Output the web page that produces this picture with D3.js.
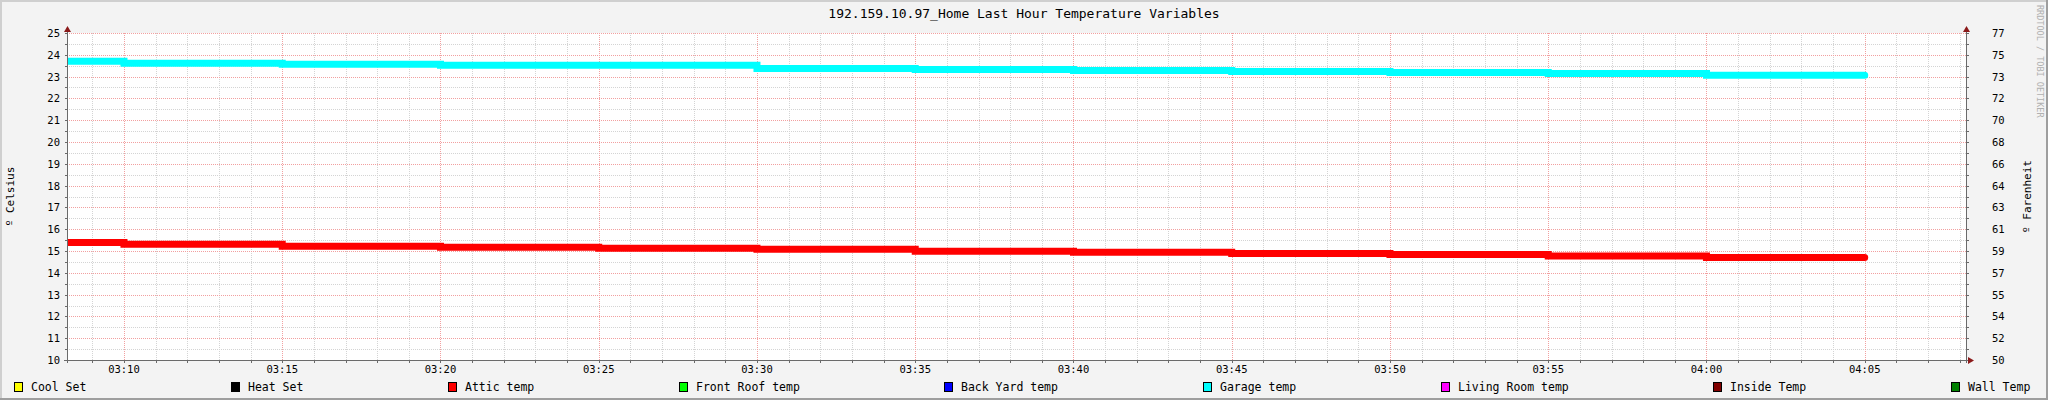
<!DOCTYPE html>
<html>
<head>
<meta charset="utf-8">
<script src="https://cdn.jsdelivr.net/npm/d3@7"></script>
<style>
  body { margin: 0; background: #f3f3f3; }
  svg { display: block; font-family: "DejaVu Sans Mono", monospace; }
</style>
</head>
<body>
<svg id="chart"></svg>
<script>
// 5 minute samples, value holds from the time until the next one
var times = ['03:05', '03:10', '03:15', '03:20', '03:25', '03:30', '03:35', '03:40', '03:45', '03:50', '03:55', '04:00'];
var endTime = '04:05';
var garageTemp = [23.70, 23.61, 23.57, 23.52, 23.52, 23.37, 23.33, 23.28, 23.23, 23.19, 23.14, 23.06];
var atticTemp = [15.39, 15.31, 15.22, 15.17, 15.13, 15.08, 14.99, 14.94, 14.89, 14.84, 14.77, 14.70];

var celsiusTicks = [10, 11, 12, 13, 14, 15, 16, 17, 18, 19, 20, 21, 22, 23, 24, 25];
var farenheitLabels = ['50', '52', '54', '55', '57', '59', '61', '63', '64', '66', '68', '70', '72', '73', '75', '77'];
var timeLabels = ['03:10', '03:15', '03:20', '03:25', '03:30', '03:35', '03:40', '03:45', '03:50', '03:55', '04:00', '04:05'];

var legendNames = ['Cool Set', 'Heat Set', 'Attic temp', 'Front Roof temp', 'Back Yard temp', 'Garage temp', 'Living Room temp', 'Inside Temp', 'Wall Temp'];
var legendColors = ['#ffff00', '#000000', '#ff0000', '#00ff00', '#0000ff', '#00ffff', '#ff00ff', '#800000', '#008000'];

var width = 2048;
var height = 400;
var plotLeft = 67, plotRight = 1966, plotTop = 33, plotBottom = 360;

var parseMin = d3.timeParse('%H:%M');
var parseSec = d3.timeParse('%H:%M:%S');

var x = d3.scaleTime()
  .domain([parseSec('03:08:12'), parseSec('04:08:12')])
  .range([plotLeft, plotRight]);

var y = d3.scaleLinear()
  .domain([10, 25])
  .range([plotBottom, plotTop]);

var yF = d3.scaleLinear()
  .domain([50, 77])
  .range([plotBottom, plotTop]);

var svg = d3.select('#chart')
  .attr('width', width)
  .attr('height', height);

// background + 3d-ish border
svg.append('rect').attr('width', width).attr('height', height).attr('fill', '#f3f3f3');
svg.append('rect').attr('x', 0).attr('y', 0).attr('width', width).attr('height', 2).attr('fill', '#cfcfcf');
svg.append('rect').attr('x', 0).attr('y', 0).attr('width', 2).attr('height', height).attr('fill', '#cfcfcf');
svg.append('rect').attr('x', 0).attr('y', height - 2).attr('width', width).attr('height', 2).attr('fill', '#9e9e9e');
svg.append('rect').attr('x', width - 2).attr('y', 0).attr('width', 2).attr('height', height).attr('fill', '#9e9e9e');

svg.append('rect')
  .attr('x', plotLeft).attr('y', plotTop)
  .attr('width', plotRight - plotLeft).attr('height', plotBottom - plotTop)
  .attr('fill', '#ffffff');

// grid
var minorX = x.ticks(d3.timeMinute.every(1));
var majorX = timeLabels.map(parseMin);
var minorY = d3.range(10, 25.01, 0.5);

var grid = svg.append('g').attr('shape-rendering', 'crispEdges');

grid.selectAll('.vminor')
  .data(minorX)
  .enter()
  .append('line')
  .attr('x1', d => Math.round(x(d)) + 0.5).attr('x2', d => Math.round(x(d)) + 0.5)
  .attr('y1', plotTop).attr('y2', plotBottom)
  .attr('stroke', '#d4d4d4')
  .attr('stroke-dasharray', '1,1');

grid.selectAll('.hminor')
  .data(minorY)
  .enter()
  .append('line')
  .attr('y1', d => Math.round(y(d)) + 0.5).attr('y2', d => Math.round(y(d)) + 0.5)
  .attr('x1', plotLeft).attr('x2', plotRight)
  .attr('stroke', '#d4d4d4')
  .attr('stroke-dasharray', '1,1');

grid.selectAll('.vmajor')
  .data(majorX)
  .enter()
  .append('line')
  .attr('x1', d => Math.round(x(d)) + 0.5).attr('x2', d => Math.round(x(d)) + 0.5)
  .attr('y1', plotTop).attr('y2', plotBottom)
  .attr('stroke', '#f2a0a0')
  .attr('stroke-dasharray', '1,1');

grid.selectAll('.hmajor')
  .data(celsiusTicks)
  .enter()
  .append('line')
  .attr('y1', d => Math.round(y(d)) + 0.5).attr('y2', d => Math.round(y(d)) + 0.5)
  .attr('x1', plotLeft).attr('x2', plotRight)
  .attr('stroke', '#f2a0a0')
  .attr('stroke-dasharray', '1,1');

// data lines
svg.append('clipPath').attr('id', 'plotclip')
  .append('rect')
  .attr('x', plotLeft).attr('y', plotTop)
  .attr('width', plotRight - plotLeft).attr('height', plotBottom - plotTop);

function series(values) {
  var pts = times.map((t, i) => ({ t: parseMin(t), v: values[i] }));
  pts.push({ t: parseMin(endTime), v: values[values.length - 1] });
  return pts;
}

var line = d3.line()
  .x(d => x(d.t))
  .y(d => y(d.v))
  .curve(d3.curveStepAfter);

var lines = svg.append('g').attr('clip-path', 'url(#plotclip)');

[[garageTemp, '#00ffff'], [atticTemp, '#ff0000']].forEach(function(s) {
  lines.append('path')
    .datum(series(s[0]))
    .attr('d', line)
    .attr('fill', 'none')
    .attr('stroke', s[1])
    .attr('stroke-width', 7)
    .attr('stroke-linecap', 'round');
});

// axes
var axisColor = '#6a6a6a';
var axes = svg.append('g').attr('shape-rendering', 'crispEdges');

axes.append('line').attr('x1', plotLeft + 0.5).attr('x2', plotLeft + 0.5)
  .attr('y1', plotTop - 2).attr('y2', plotBottom + 3).attr('stroke', axisColor);
axes.append('line').attr('x1', plotRight + 0.5).attr('x2', plotRight + 0.5)
  .attr('y1', plotTop - 2).attr('y2', plotBottom + 3).attr('stroke', axisColor);
axes.append('line').attr('x1', plotLeft - 3).attr('x2', plotRight + 4)
  .attr('y1', plotBottom + 0.5).attr('y2', plotBottom + 0.5).attr('stroke', axisColor);

// tick marks
axes.selectAll('.ltick')
  .data(minorY)
  .enter()
  .append('line')
  .attr('x1', plotLeft - 2).attr('x2', plotLeft)
  .attr('y1', d => Math.round(y(d)) + 0.5).attr('y2', d => Math.round(y(d)) + 0.5)
  .attr('stroke', axisColor);

axes.selectAll('.rtick')
  .data(minorY)
  .enter()
  .append('line')
  .attr('x1', plotRight + 1).attr('x2', plotRight + 3)
  .attr('y1', d => Math.round(y(d)) + 0.5).attr('y2', d => Math.round(y(d)) + 0.5)
  .attr('stroke', axisColor);

axes.selectAll('.btick')
  .data(minorX)
  .enter()
  .append('line')
  .attr('x1', d => Math.round(x(d)) + 0.5).attr('x2', d => Math.round(x(d)) + 0.5)
  .attr('y1', plotBottom + 1).attr('y2', plotBottom + 3)
  .attr('stroke', axisColor);

// arrows
var arrowColor = '#8b1a1a';
svg.append('path')
  .attr('d', 'M' + (plotLeft - 3) + ',' + (plotTop - 1) + 'L' + (plotLeft + 0.5) + ',' + (plotTop - 7) + 'L' + (plotLeft + 4) + ',' + (plotTop - 1) + 'Z')
  .attr('fill', arrowColor);
svg.append('path')
  .attr('d', 'M' + (plotRight - 3) + ',' + (plotTop - 1) + 'L' + (plotRight + 0.5) + ',' + (plotTop - 7) + 'L' + (plotRight + 4) + ',' + (plotTop - 1) + 'Z')
  .attr('fill', arrowColor);
svg.append('path')
  .attr('d', 'M' + (plotRight + 2) + ',' + (plotBottom - 3) + 'L' + (plotRight + 8) + ',' + (plotBottom + 0.5) + 'L' + (plotRight + 2) + ',' + (plotBottom + 4) + 'Z')
  .attr('fill', arrowColor);

// tick labels
svg.append('g')
  .selectAll('text')
  .data(celsiusTicks)
  .enter()
  .append('text')
  .attr('x', 60)
  .attr('y', d => y(d) + 4)
  .attr('text-anchor', 'end')
  .attr('font-size', 10.5)
  .attr('fill', '#000')
  .text(d => d);

svg.append('g')
  .selectAll('text')
  .data(celsiusTicks)
  .enter()
  .append('text')
  .attr('x', 1992)
  .attr('y', (d, i) => yF(d * 1.8 + 32) + 4)
  .attr('font-size', 10.5)
  .attr('fill', '#000')
  .text((d, i) => farenheitLabels[i]);

svg.append('g')
  .selectAll('text')
  .data(majorX)
  .enter()
  .append('text')
  .attr('x', d => x(d))
  .attr('y', 373)
  .attr('text-anchor', 'middle')
  .attr('font-size', 10.5)
  .attr('fill', '#000')
  .text((d, i) => timeLabels[i]);

// title and axis titles
svg.append('text')
  .attr('x', 1024)
  .attr('y', 18)
  .attr('text-anchor', 'middle')
  .attr('font-size', 13)
  .attr('fill', '#000')
  .text('192.159.10.97_Home Last Hour Temperature Variables');

svg.append('text')
  .attr('transform', 'translate(14,' + (plotTop + plotBottom) / 2 + ') rotate(-90)')
  .attr('text-anchor', 'middle')
  .attr('font-size', 11)
  .attr('fill', '#000')
  .text('º Celsius');

svg.append('text')
  .attr('transform', 'translate(2031,' + (plotTop + plotBottom) / 2 + ') rotate(-90)')
  .attr('text-anchor', 'middle')
  .attr('font-size', 11)
  .attr('fill', '#000')
  .text('º Farenheit');

svg.append('text')
  .attr('transform', 'translate(2037,5) rotate(90)')
  .attr('font-size', 8.5)
  .attr('fill', '#b0b0b0')
  .text('RRDTOOL / TOBI OETIKER');

// legend, spread evenly across the width
var legend = svg.append('g');
var items = legend.selectAll('g')
  .data(legendNames)
  .enter()
  .append('g');

items.append('rect')
  .attr('x', 0.5).attr('y', 382.5)
  .attr('width', 8).attr('height', 9)
  .attr('fill', (d, i) => legendColors[i])
  .attr('stroke', '#000');

items.append('text')
  .attr('x', 17)
  .attr('y', 391)
  .attr('font-size', 11.5)
  .attr('fill', '#000')
  .text(d => d);

var widths = [];
items.each(function() {
  widths.push(17 + d3.select(this).select('text').node().getComputedTextLength());
});
var legendStart = 14, legendEnd = 2030;
var gap = (legendEnd - legendStart - d3.sum(widths)) / (widths.length - 1);
var pos = legendStart;
items.attr('transform', function(d, i) {
  var p = pos;
  pos += widths[i] + gap;
  return 'translate(' + Math.round(p) + ',0)';
});
</script>
</body>
</html>
